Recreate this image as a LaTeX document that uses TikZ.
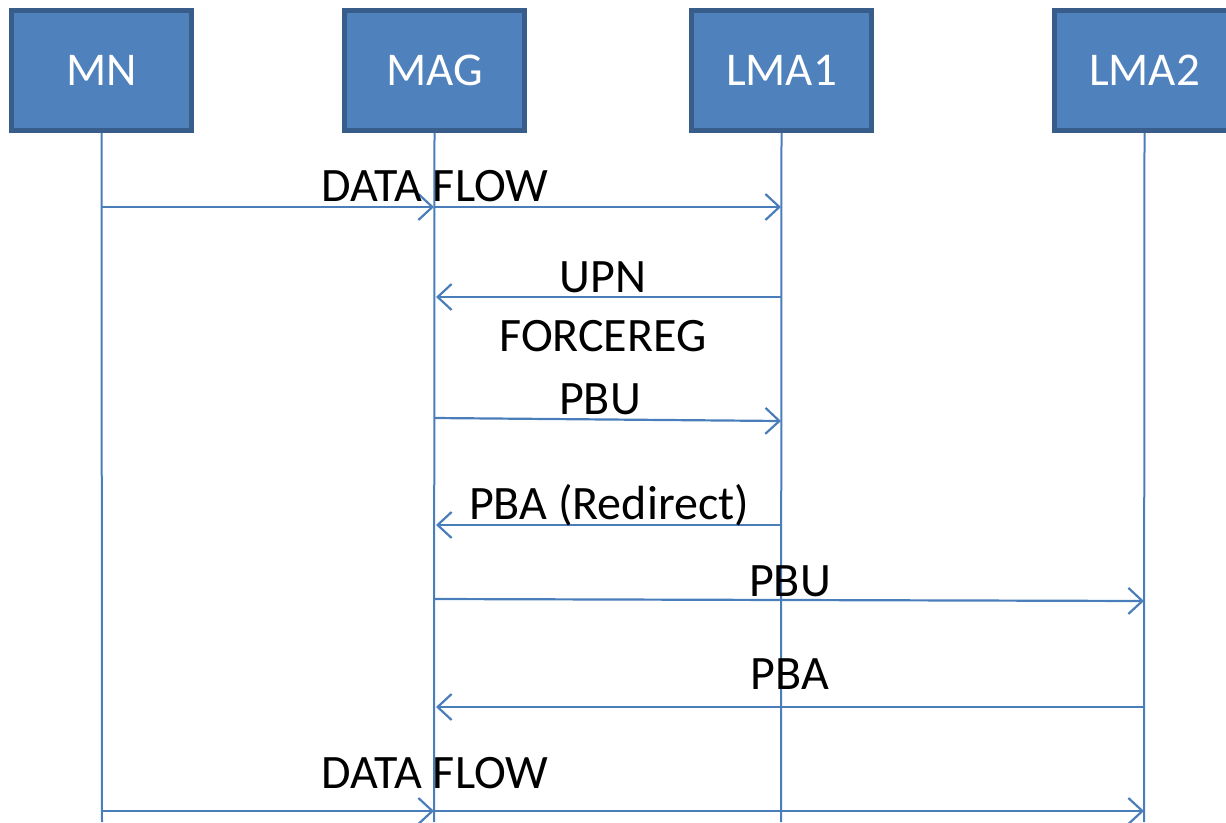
\documentclass[tikz,border=0pt]{standalone}
\usepackage{fontspec}
\setmainfont{Carlito}
\usetikzlibrary{arrows.meta}
\definecolor{boxfill}{HTML}{4F81BD}
\definecolor{boxedge}{HTML}{385D8A}
\definecolor{linec}{HTML}{4A7EBB}
\tikzset{
  actor/.style={draw=boxedge, fill=boxfill, line width=4.5pt, minimum width=180pt, minimum height=120pt, inner sep=0pt, text=white, font=\fontsize{47}{47}\selectfont},
  lifeline/.style={draw=linec, line width=2pt},
  msg/.style={draw=linec, line width=2.2pt, -{Straight Barb[length=14pt,width=26pt,line width=2.2pt]}},
  lbl/.style={anchor=base, inner sep=0pt, font=\fontsize{48}{48}\selectfont}
}
\begin{document}
\begin{tikzpicture}[x=1pt,y=-1pt]
\useasboundingbox (0,0) rectangle (1226,822);
% actors
\node[actor] (mn)   at (101.5,70.5)  {MN};
\node[actor] (mag)  at (434.5,70.5)  {MAG};
\node[actor] (lma1) at (781.5,70.5)  {LMA1};
\node[actor] (lma2) at (1144.5,70.5) {LMA2};
% lifeline ends
\coordinate (mnE)   at (102,822);
\coordinate (magE)  at (434,822);
\coordinate (lma1E) at (781,822);
\coordinate (lma2E) at (1144,822);
\draw[lifeline] (mn.south) -- (mnE);
\draw[lifeline] (mag.south) -- (magE);
\draw[lifeline] (lma1.south) -- (lma1E);
\draw[lifeline] (lma2.south) -- (lma2E);
% message points
\coordinate (a1) at (102,207);  \coordinate (b1) at (434,207);  \coordinate (c1) at (781,207);
\coordinate (a2) at (781,297);  \coordinate (b2) at (436,297);
\coordinate (a4) at (434,418);  \coordinate (b4) at (781,421);
\coordinate (a5) at (781,525);  \coordinate (b5) at (436,525);
\coordinate (a6) at (434,599);  \coordinate (b6) at (1144,601);
\coordinate (a7) at (1144,707); \coordinate (b7) at (436,707);
\coordinate (a8) at (102,811);  \coordinate (b8) at (434,811);  \coordinate (c8) at (1144,811);
% messages
\draw[msg] (a1) -- (b1);
\draw[msg] (b1) -- (c1);
\draw[msg] (a2) -- (b2);
\draw[msg] (a4) -- (b4);
\draw[msg] (a5) -- (b5);
\draw[msg] (a6) -- (b6);
\draw[msg] (a7) -- (b7);
\draw[msg] (a8) -- (b8);
\draw[msg] (b8) -- (c8);
% labels
\node[lbl] (t1) at (435,201) {DATA FLOW};
\node[lbl] (t2) at (603,292) {UPN};
\node[lbl] (t3) at (603,351) {FORCEREG};
\node[lbl] (t4) at (600,414) {PBU};
\node[lbl] (t5) at (609,519) {PBA (Redirect)};
\node[lbl] (t6) at (790,596) {PBU};
\node[lbl] (t7) at (790,689) {PBA};
\node[lbl] (t8) at (435,788) {DATA FLOW};
\end{tikzpicture}
\end{document}
